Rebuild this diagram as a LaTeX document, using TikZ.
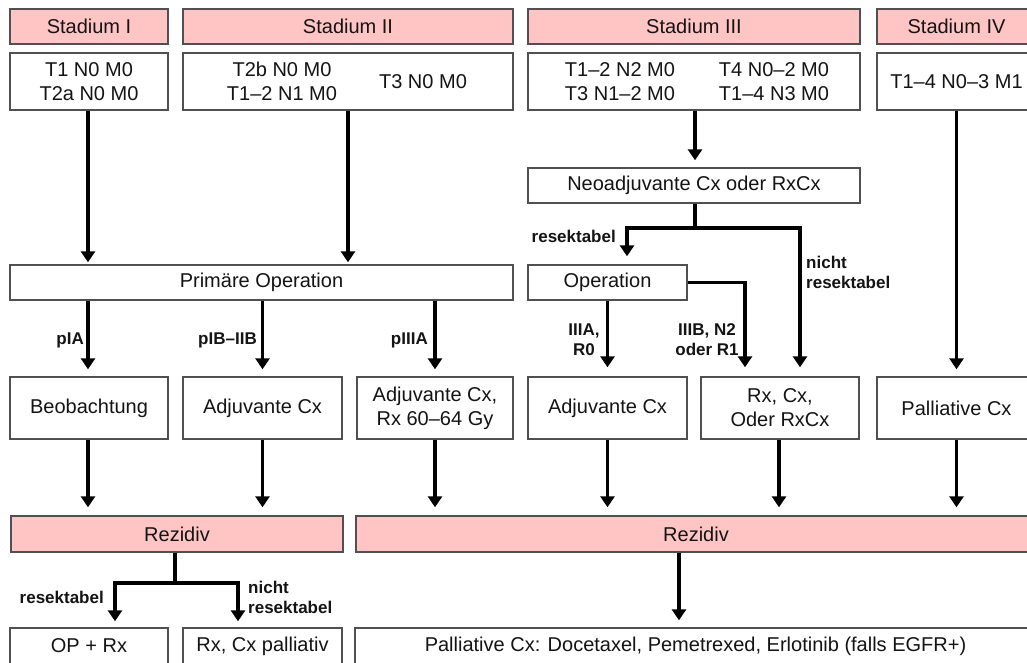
\documentclass[tikz,border=0pt]{standalone}
\usepackage{fontspec}
\setmainfont{Liberation Sans}
\usetikzlibrary{arrows.meta,calc}
\definecolor{pinkfill}{RGB}{255,197,197}
\definecolor{bordergray}{RGB}{80,80,80}
\definecolor{txt}{RGB}{20,20,20}
\begin{document}
\begin{tikzpicture}[x=1pt,y=-1pt,
  every node/.style={text=txt},
  box/.style={draw=bordergray,line width=1.4pt,fill=white,inner sep=0pt,align=center,
    font=\fontsize{20}{24}\selectfont},
  hbox/.style={box,fill=pinkfill},
  plain/.style={inner sep=0pt,align=center,font=\fontsize{20}{24}\selectfont},
  lbl/.style={inner sep=0pt,font=\fontsize{17}{20}\selectfont\bfseries},
  arr/.style={line width=3.6pt,-{Triangle[width=14pt,length=11pt]},shorten >=6pt},
  ln/.style={line width=3.6pt}]
\useasboundingbox (0,0) rectangle (1027,662);
\clip (0,0) rectangle (1027,662);
% headers
\node[hbox,minimum width=158pt,minimum height=35pt] (s1h) at (89,26.5) {Stadium I};
\node[hbox,minimum width=330pt,minimum height=35pt] (s2h) at (348,26.5) {Stadium II};
\node[hbox,minimum width=332pt,minimum height=35pt] (s3h) at (694,26.5) {Stadium III};
\node[hbox,minimum width=159pt,minimum height=35pt] (s4h) at (956.5,26.5) {Stadium IV};
% TNM boxes
\node[box,minimum width=158pt,minimum height=57pt] (s1) at (89,81.5) {T1 N0 M0\\T2a N0 M0};
\node[box,minimum width=330pt,minimum height=57pt] (s2) at (348,81.5) {};
\node[plain] (s2a) at (282,81.5) {T2b N0 M0\\T1–2 N1 M0};
\node[plain] (s2b) at (423,81.5) {T3 N0 M0};
\node[box,minimum width=332pt,minimum height=57pt] (s3) at (694,81.5) {};
\node[plain] (s3a) at (620,81.5) {T1–2 N2 M0\\T3 N1–2 M0};
\node[plain] (s3b) at (774,81.5) {T4 N0–2 M0\\T1–4 N3 M0};
\node[box,minimum width=159pt,minimum height=57pt] (s4) at (956.5,81.5) {T1–4 N0–3 M1};
% middle
\node[box,minimum width=332pt,minimum height=35pt] (neo) at (694,185.5) {Neoadjuvante Cx oder RxCx};
\node[box,minimum width=503pt,minimum height=35pt] (prim) at (261.5,282.5) {Primäre Operation};
\node[box,minimum width=159pt,minimum height=35pt] (op) at (607.5,282.5) {Operation};
% treatment row
\node[box,minimum width=158pt,minimum height=62pt] (beo) at (89,408) {Beobachtung};
\node[box,minimum width=159pt,minimum height=62pt] (adj1) at (262.5,408) {Adjuvante Cx};
\node[box,minimum width=156pt,minimum height=62pt] (adj2) at (435,408) {Adjuvante Cx,\\Rx 60–64 Gy};
\node[box,minimum width=159pt,minimum height=62pt] (adj3) at (607.5,408) {Adjuvante Cx};
\node[box,minimum width=158pt,minimum height=62pt] (rxcx) at (780,408) {Rx, Cx,\\Oder RxCx};
\node[box,minimum width=159pt,minimum height=62pt] (pal) at (956.5,408) {Palliative Cx};
% Rezidiv
\node[hbox,minimum width=332pt,minimum height=36pt] (rez1) at (177,534) {Rezidiv};
\node[hbox,minimum width=680pt,minimum height=36pt] (rez2) at (696,534) {Rezidiv};
% bottom
\node[box,minimum width=158pt,minimum height=36pt] (oprx) at (89,646) {OP + Rx};
\node[box,minimum width=159pt,minimum height=36pt] (rxpal) at (262.5,646) {Rx, Cx palliativ};
\node[box,minimum width=681pt,minimum height=36pt] (palbig) at (695.5,646) {Palliative Cx: Docetaxel, Pemetrexed, Erlotinib (falls EGFR+)};
% connectors top
\draw[arr,shorten >=2pt] (s1.south -| 88,0) -- (prim.north -| 88,0);
\draw[arr,shorten >=2pt] (s2.south) -- (prim.north -| s2.south);
\draw[arr,shorten >=7pt] (s3.south -| 695,0) -- (neo.north -| 695,0);
\coordinate (j1) at (695,228);
\draw[arr,shorten >=8pt] (neo.south -| j1) -- (j1) -| ($(op.north)+(19.5,0)$);
\draw[arr,shorten >=9pt] (j1) -| ($(rxcx.north)+(20,0)$);
\draw[arr,shorten >=9pt] (op.east) -| ($(rxcx.north)+(-35,0)$);
\draw[arr,shorten >=9pt] (op.south) -- (adj3.north -| op.south);
\draw[arr,shorten >=7pt] (s4.south) -- (pal.north);
\draw[arr,shorten >=7pt] (prim.south -| 88,0) -- (beo.north -| 88,0);
\draw[arr,shorten >=7pt] (prim.south -| adj1.north) -- (adj1.north);
\draw[arr,shorten >=7pt] (prim.south -| adj2.north) -- (adj2.north);
% to Rezidiv
\draw[arr,shorten >=8pt] (beo.south -| 88,0) -- (rez1.north -| 88,0);
\draw[arr,shorten >=8pt] (adj1.south) -- (rez1.north -| adj1.south);
\draw[arr,shorten >=8pt] (adj2.south) -- (rez2.north -| adj2.south);
\draw[arr,shorten >=8pt] (adj3.south) -- (rez2.north -| adj3.south);
\draw[arr,shorten >=8pt] (rxcx.south -| 779,0) -- (rez2.north -| 779,0);
\draw[arr,shorten >=8pt] (pal.south) -- (rez2.north -| pal.south);
% from Rezidiv
\coordinate (j2) at (175,583);
\draw[ln] (rez1.south -| j2) -- (j2);
\draw[arr] (j2) -| ($(oprx.north)+(26,0)$);
\draw[arr] (j2) -| ($(rxpal.north)+(-24.5,0)$);
\draw[arr,shorten >=7pt] (rez2.south -| 679,0) -- (palbig.north -| 679,0);
% labels
\node[lbl,anchor=east] (l1) at (84,340) {pIA};
\node[lbl,anchor=east] (l2) at (257,340) {pIB–IIB};
\node[lbl,anchor=east] (l3) at (428,340) {pIIIA};
\node[lbl,anchor=east] (l4) at (616,236) {resektabel};
\node[lbl,anchor=west,align=left] (l5) at (806,272) {nicht\\resektabel};
\node[lbl,align=center] (l6) at (584,340) {IIIA,\\R0};
\node[lbl,align=center] (l7) at (707,340) {IIIB, N2\\oder R1};
\node[lbl,anchor=east] (l8) at (104,597) {resektabel};
\node[lbl,anchor=west,align=left] (l9) at (248,597) {nicht\\resektabel};
\end{tikzpicture}
\end{document}
